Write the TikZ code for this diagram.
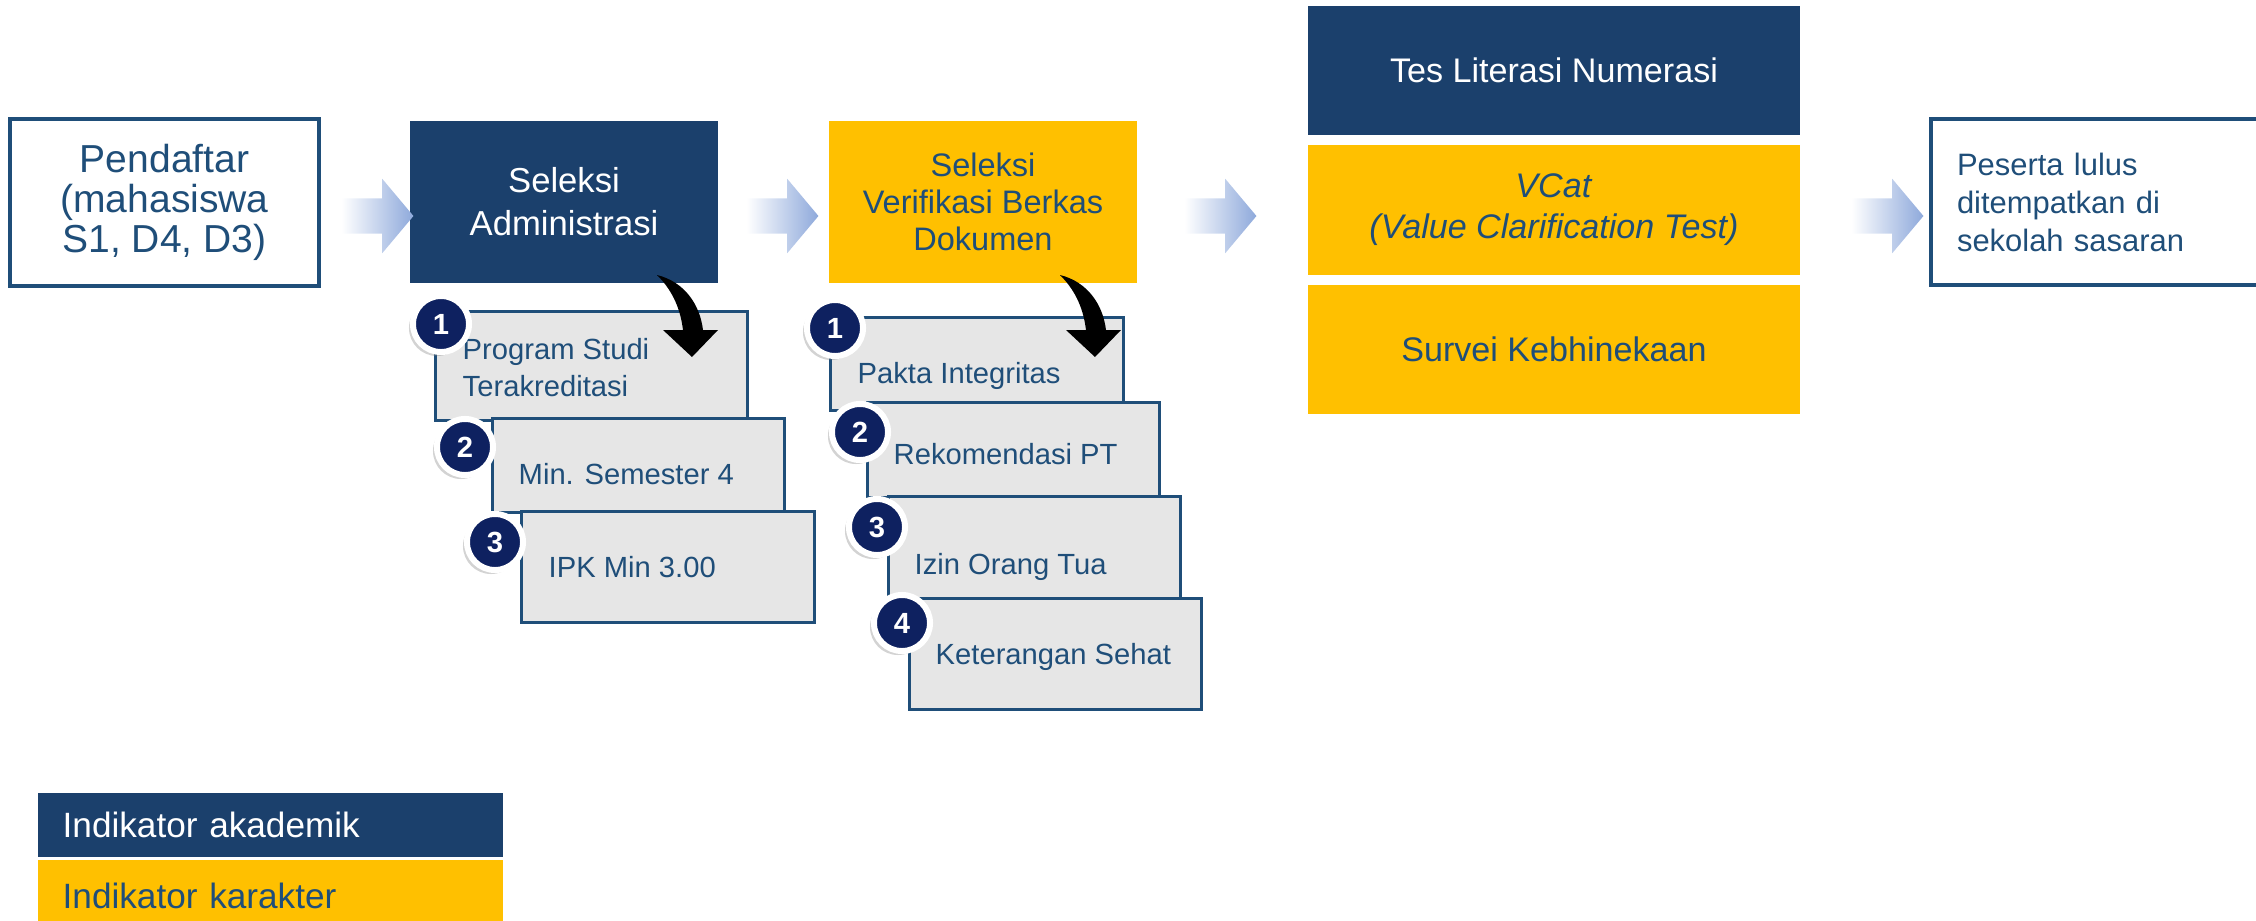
\documentclass[tikz,border=0pt]{standalone}
\usepackage{fontspec}
\setmainfont{Liberation Sans}
\usetikzlibrary{shapes.arrows}
\usetikzlibrary{shadows}
\definecolor{navy}{HTML}{1B406C}
\definecolor{gold}{HTML}{FFC000}
\definecolor{inkblue}{HTML}{1F4E79}
\definecolor{dotblue}{HTML}{0E2160}
\definecolor{boxgray}{HTML}{E6E6E6}
\definecolor{arrowblue}{HTML}{8EA9DB}
\tikzstyle{stage}=[rectangle, inner sep=0pt, align=center]
\tikzstyle{outline}=[stage, draw=inkblue, line width=0.04cm, fill=white, text=inkblue]
\tikzstyle{acad}=[stage, fill=navy, text=white]
\tikzstyle{chara}=[stage, fill=gold, text=inkblue]
\tikzstyle{req}=[rectangle, draw=inkblue, line width=0.03cm, fill=boxgray, inner sep=0pt]
\tikzstyle{reqtext}=[anchor=base west, inner sep=0pt, text=inkblue, align=left, font=\fontsize{8.3}{10.5}\selectfont]
\tikzstyle{numdot}=[circle, fill=dotblue, draw=white, line width=0.06cm, minimum size=0.56cm, inner sep=0pt, text=white, font=\bfseries\fontsize{8.3}{10}\selectfont, drop shadow={shadow xshift=-0.04cm, shadow yshift=-0.04cm, opacity=0.35}]
\tikzstyle{flow}=[single arrow, minimum height=0.72cm, inner xsep=0pt, inner ysep=0.17cm, single arrow head extend=0.195cm, single arrow tip angle=100, left color=white, right color=arrowblue]
\newcommand{\bendarrow}[1]{%
  \fill[black, shift={#1}] (0,0) .. controls (28,7) and (43,30) .. (46,55) -- (61,55) -- (35,82) -- (6,55) -- (26,55) .. controls (23,30) and (13,13) .. cycle;}

\begin{document}
\begin{tikzpicture}[x=0.01cm, y=-0.01cm]
        \useasboundingbox (0,0) rectangle (2256,921);
        \clip (0,0) rectangle (2256,921);
        % main stages
        \node[outline, minimum width=3.09cm, minimum height=1.67cm, font=\fontsize{11.1}{11.3}\selectfont] (pend) at (164.5,202.5) {Pendaftar\\(mahasiswa\\S1, D4, D3)};
        \node[acad, minimum width=3.08cm, minimum height=1.62cm, font=\fontsize{9.85}{12.2}\selectfont] (seladm) at (564,202) {Seleksi\\Administrasi};
        \node[chara, minimum width=3.08cm, minimum height=1.62cm, font=\fontsize{9.25}{10.6}\selectfont] (selver) at (983,202) {Seleksi\\Verifikasi Berkas\\Dokumen};
        \node[acad, minimum width=4.92cm, minimum height=1.29cm, font=\fontsize{9.7}{11.7}\selectfont] (tes) at (1554,70.5) {Tes Literasi Numerasi};
        \node[chara, minimum width=4.92cm, minimum height=1.30cm, font=\fontsize{9.7}{11.7}\selectfont] (vcat) at (1554,210) {\textit{VCat}\\\textit{(Value Clarification Test)}};
        \node[chara, minimum width=4.92cm, minimum height=1.29cm, font=\fontsize{9.7}{11.7}\selectfont] (survei) at (1554,349.5) {Survei Kebhinekaan};
        \node[outline, anchor=west, minimum width=3.45cm, minimum height=1.66cm, text width=2.93cm, align=left, font=\fontsize{8.8}{10.8}\selectfont] (peserta) at (1929,202) {Peserta lulus\\ditempatkan di\\sekolah sasaran};
        % arrows between stages
        \node[flow] (f1) at (370,216) {};
        \node[flow] (f2) at (775,216) {};
        \node[flow] (f3) at (1213,216) {};
        \node[flow] (f4) at (1880,216) {};
        % administrasi requirements
        \node[req, minimum width=3.11cm, minimum height=1.08cm] (adm1) at (591.5,366) {};
        \node[req, minimum width=2.91cm, minimum height=0.93cm] (adm2) at (638.5,465.5) {};
        \node[req, minimum width=2.92cm, minimum height=1.10cm] (adm3) at (668,567) {};
        \node[reqtext, anchor=west] (admt1) at (462,368) {Program Studi\\Terakreditasi};
        \node[reqtext] (admt2) at (518,484) {Min. Semester 4};
        \node[reqtext] (admt3) at (548,577) {IPK Min 3.00};
        % berkas requirements
        \node[req, minimum width=2.92cm, minimum height=0.92cm] (ver1) at (977,364) {};
        \node[req, minimum width=2.91cm, minimum height=0.94cm] (ver2) at (1013.5,450) {};
        \node[req, minimum width=2.91cm, minimum height=1.02cm] (ver3) at (1034.5,548) {};
        \node[req, minimum width=2.91cm, minimum height=1.10cm] (ver4) at (1055.5,654) {};
        \node[reqtext] (vert1) at (857,383) {Pakta Integritas};
        \node[reqtext] (vert2) at (893,464) {Rekomendasi PT};
        \node[reqtext] (vert3) at (914,574) {Izin Orang Tua};
        \node[reqtext] (vert4) at (935,664) {Keterangan Sehat};
        % numbers
        \node[numdot] (na1) at (441,324) {1};
        \node[numdot] (na2) at (465,447) {2};
        \node[numdot] (na3) at (495,542) {3};
        \node[numdot] (nv1) at (835,328) {1};
        \node[numdot] (nv2) at (860,432) {2};
        \node[numdot] (nv3) at (877,527) {3};
        \node[numdot] (nv4) at (902,623) {4};
        \bendarrow{(657,275)}
        \bendarrow{(1060,275)}
        % legend
        \node[acad, anchor=west, minimum width=4.65cm, minimum height=0.64cm, text width=4.15cm, align=left, font=\fontsize{10}{12}\selectfont] (legacad) at (37,825) {Indikator akademik};
        \node[chara, anchor=west, minimum width=4.65cm, minimum height=0.72cm, text width=4.15cm, align=left, font=\fontsize{10}{12}\selectfont] (legchar) at (37,896) {Indikator karakter};
\end{tikzpicture}
\end{document}
